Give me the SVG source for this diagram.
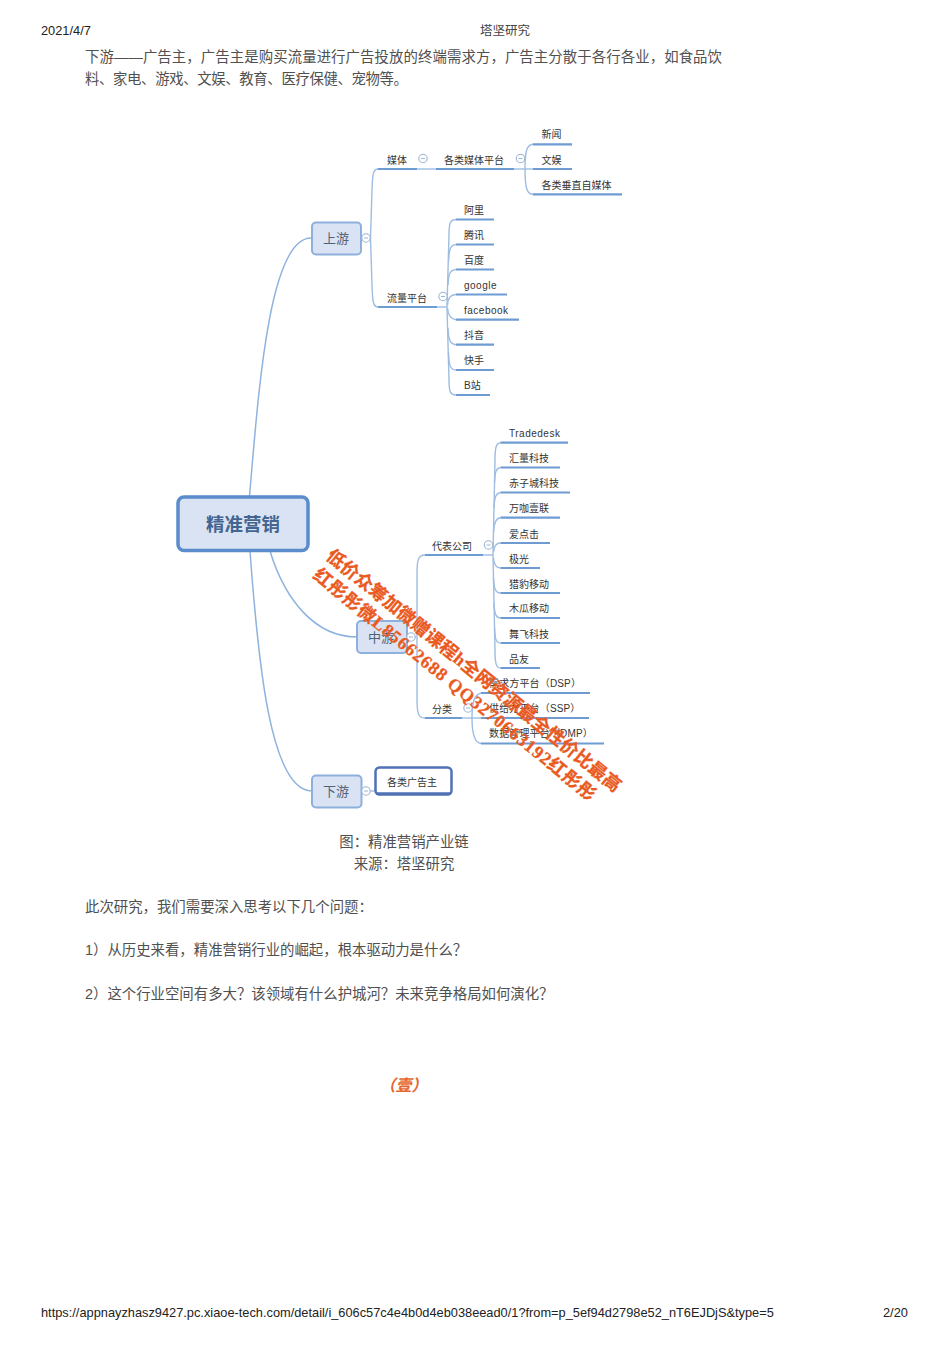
<svg xmlns="http://www.w3.org/2000/svg" width="950" height="1345" viewBox="0 0 950 1345">
<style>
text{font-family:"Liberation Sans","Noto Sans CJK SC",sans-serif}
.body{font-size:14.4px;fill:#505050}
.c{text-anchor:middle}
.hd{font-size:12.8px;fill:#222}
.lb{font-size:10px;fill:#333}
.la{letter-spacing:.5px}
.ul{stroke:#6f9bd3;stroke-width:2.2;fill:none}
.lk{stroke:#9dbde3;stroke-width:1.4;fill:none}
.tr{stroke:#8fb3de;stroke-width:1.5;fill:none}
.ci{fill:#fff;stroke:#9db4d2;stroke-width:1.1}
.ci2{stroke:#9db4d2;stroke-width:1}
.box{fill:#dae3f3;stroke:#8db0dc;stroke-width:2}
.bt{font-size:13px;fill:#50617a;text-anchor:middle}
.wm{font-family:"Liberation Serif","Noto Sans CJK SC",serif;font-size:18px;font-weight:700;fill:#ea5a1e;stroke:#ea5a1e;stroke-width:.3}
</style>
<defs>
<g id="tog"><circle r="4.2" class="ci"/><line x1="-2" x2="2" class="ci2"/></g>
</defs>
<rect width="950" height="1345" fill="#fff"/>
<g id="page-text">
<text x="41" y="35" class="hd">2021/4/7</text>
<text x="505" y="35" class="c" style="font-size:12.5px;fill:#444;font-family:'Liberation Serif','Noto Sans CJK SC',serif">塔坚研究</text>
<text x="85" y="62" class="body" textLength="637">下游——广告主，广告主是购买流量进行广告投放的终端需求方，广告主分散于各行各业，如食品饮</text>
<text x="85" y="84" class="body" textLength="323">料、家电、游戏、文娱、教育、医疗保健、宠物等。</text>
<text x="404" y="847" class="body c">图：精准营销产业链</text>
<text x="404" y="869" class="body c">来源：塔坚研究</text>
<text x="85" y="912" class="body">此次研究，我们需要深入思考以下几个问题：</text>
<text x="85" y="955" class="body">1）从历史来看，精准营销行业的崛起，根本驱动力是什么？</text>
<text x="85" y="999" class="body">2）这个行业空间有多大？该领域有什么护城河？未来竞争格局如何演化？</text>
<text x="403.500" y="1091" class="c" style="font-size:16px;font-weight:700;font-style:italic;fill:#e4662c">（壹）</text>
<text x="41" y="1317" class="hd">https://appnayzhasz9427.pc.xiaoe-tech.com/detail/i_606c57c4e4b0d4eb038eead0/1?from=p_5ef94d2798e52_nT6EJDjS&amp;type=5</text>
<text x="883" y="1317" class="hd">2/20</text>
</g>
<g id="connectors">
<path class="tr" d="M249.500 496C258 400 268 238 311 238"/>
<path class="tr" d="M270 551C285 600 315 637 357 637"/>
<path class="tr" d="M250 551C258 660 270 791 312 791"/>
<path class="lk" d="M361 238H370"/>
<path class="lk" d="M378 169C373 169 372.500 175 372 190L370.500 238L372 285C372.500 301 373 307 378 307"/>
<path class="lk" d="M417 169H436"/>
<path class="lk" d="M514 169H525"/>
<path class="lk" d="M533 144.300C527 145 525 150 525 169C525 188 527 194 533 194.300"/>
<path class="lk" d="M525 169H533"/>
<path class="lk" d="M437 307H447"/>
<path class="lk" d="M456 219.500C450 219.500 449 224 449 235L447 307L449 380C449 391 450 395 456 395"/>
<path class="lk" d="M456 244.500C450 245 449 250 448.500 262"/>
<path class="lk" d="M456 269.500C450 270 448.500 274 448 285"/>
<path class="lk" d="M456 294.500C450 295 448 298 447.500 305"/>
<path class="lk" d="M456 319.700C450 319 448 315 447.500 308"/>
<path class="lk" d="M456 344.700C450 344 448.500 340 448 328"/>
<path class="lk" d="M456 370C450 370 449 365 448.500 352"/>
<path class="lk" d="M407 637H416"/>
<path class="lk" d="M425 555C418 555 417 560 417 575V698C417 713 418 718 425 718"/>
<path class="lk" d="M483 555H493"/>
<path class="lk" d="M500.500 442.700C496 443 495 448 495 460L493 555L495 650C495 663 496 668 500.500 668"/>
<path class="lk" d="M500.500 467.500C496 468 495 472 494.500 483"/>
<path class="lk" d="M500.500 492.500C496 493 494.500 497 494 508"/>
<path class="lk" d="M500.500 517.700C496 518 494 522 493.500 532"/>
<path class="lk" d="M500.500 543C496 543 494 546 493.500 552"/>
<path class="lk" d="M500.500 568C496 568 494 565 493.500 558"/>
<path class="lk" d="M500.500 593C496 593 494 590 493.500 578"/>
<path class="lk" d="M500.500 618C496 618 494.500 614 494 603"/>
<path class="lk" d="M500.500 643C496 643 495 639 494.500 628"/>
<path class="lk" d="M462 718H482"/>
<path class="lk" d="M482 693C475 694 472 700 472 718C472 736 475 743 481 743.500"/>
<path class="lk" d="M361 791H376"/>
</g>
<g id="n-root"><rect x="178" y="497" width="130" height="53.500" rx="6" fill="#dae3f3" stroke="#5b8ccb" stroke-width="3.500"/><text x="243" y="531" class="c" style="font-size:18.500px;font-weight:700;fill:#44658f">精准营销</text></g>
<g id="n-up"><rect x="312" y="222.500" width="49" height="32" rx="4" class="box"/><text x="336" y="243" class="bt">上游</text><use href="#tog" x="366" y="238"/></g>
<g id="n-mid"><rect x="357" y="621" width="50" height="32" rx="4" class="box"/><text x="381" y="642" class="bt">中游</text><use href="#tog" x="411" y="637"/></g>
<g id="n-down"><rect x="312" y="775.500" width="49.500" height="32" rx="4" class="box"/><text x="336" y="796" class="bt">下游</text><use href="#tog" x="366" y="791"/></g>
<g id="n-ads"><rect x="375.500" y="767.500" width="76" height="27" rx="4" fill="#fff" stroke="#4f72b5" stroke-width="2.500"/><path d="M376 793.500H451" stroke="#4f72b5" stroke-width="2.500"/><text x="412" y="785.500" class="lb c">各类广告主</text></g>
<g id="n-media"><path class="ul" d="M378 169H417"/><text x="387" y="163.500" class="lb">媒体</text><use href="#tog" x="423" y="158.500"/></g>
<g id="n-mediaplat"><path class="ul" d="M436 169H514"/><text x="444" y="163.500" class="lb">各类媒体平台</text><use href="#tog" x="520.500" y="158.500"/></g>
<g id="n-news"><path class="ul" d="M533 144.300H572"/><text x="541.500" y="138" class="lb">新闻</text></g>
<g id="n-ent"><path class="ul" d="M533 169H572"/><text x="541.500" y="163.500" class="lb">文娱</text></g>
<g id="n-self"><path class="ul" d="M533 194.300H622"/><text x="541.500" y="188.500" class="lb">各类垂直自媒体</text></g>
<g id="n-traffic"><path class="ul" d="M378 307H437"/><text x="387" y="301.500" class="lb">流量平台</text><use href="#tog" x="443" y="296.500"/></g>
<g id="n-ali"><path class="ul" d="M456 219.500H494"/><text x="464" y="213.500" class="lb">阿里</text></g>
<g id="n-tencent"><path class="ul" d="M456 244.500H494"/><text x="464" y="239" class="lb">腾讯</text></g>
<g id="n-baidu"><path class="ul" d="M456 269.500H494"/><text x="464" y="264" class="lb">百度</text></g>
<g id="n-google"><path class="ul" d="M456 294.500H507"/><text x="464" y="289" class="lb la">google</text></g>
<g id="n-facebook"><path class="ul" d="M456 319.700H519"/><text x="464" y="313.500" class="lb la">facebook</text></g>
<g id="n-douyin"><path class="ul" d="M456 344.700H494"/><text x="464" y="339" class="lb">抖音</text></g>
<g id="n-kuaishou"><path class="ul" d="M456 370H494"/><text x="464" y="364" class="lb">快手</text></g>
<g id="n-bili"><path class="ul" d="M456 395H490"/><text x="464" y="389" class="lb">B站</text></g>
<g id="n-rep"><path class="ul" d="M425 555H483"/><text x="432" y="549.500" class="lb">代表公司</text><use href="#tog" x="488.500" y="545"/></g>
<g id="n-td"><path class="ul" d="M500.500 442.700H568"/><text x="509" y="437" class="lb la">Tradedesk</text></g>
<g id="n-hl"><path class="ul" d="M500.500 467.500H560"/><text x="509" y="462" class="lb">汇量科技</text></g>
<g id="n-czc"><path class="ul" d="M500.500 492.500H570"/><text x="509" y="487" class="lb">赤子城科技</text></g>
<g id="n-wk"><path class="ul" d="M500.500 517.700H560"/><text x="509" y="512" class="lb">万咖壹联</text></g>
<g id="n-adc"><path class="ul" d="M500.500 543H550"/><text x="509" y="537.500" class="lb">爱点击</text></g>
<g id="n-jg"><path class="ul" d="M500.500 568H540"/><text x="509" y="562.500" class="lb">极光</text></g>
<g id="n-lb"><path class="ul" d="M500.500 593H560"/><text x="509" y="587.500" class="lb">猎豹移动</text></g>
<g id="n-mg"><path class="ul" d="M500.500 618H560"/><text x="509" y="612" class="lb">木瓜移动</text></g>
<g id="n-wf"><path class="ul" d="M500.500 643H560"/><text x="509" y="637.500" class="lb">舞飞科技</text></g>
<g id="n-py"><path class="ul" d="M500.500 668H540"/><text x="509" y="663" class="lb">品友</text></g>
<g id="n-cat"><path class="ul" d="M425 718H462"/><text x="432" y="712.500" class="lb">分类</text><use href="#tog" x="468" y="708"/></g>
<g id="n-dsp"><path class="ul" d="M481 693H590"/><text x="489" y="687" class="lb" style="letter-spacing:.15px">需求方平台（DSP）</text></g>
<g id="n-ssp"><path class="ul" d="M481 718H589"/><text x="489" y="712" class="lb" style="letter-spacing:.15px">供给方平台（SSP）</text></g>
<g id="n-dmp"><path class="ul" d="M481 743.500H604"/><text x="489" y="737" class="lb" style="letter-spacing:.15px">数据管理平台（DMP）</text></g>
<g id="watermark">
<text class="wm" transform="translate(325 558) rotate(39)" textLength="373">低价众筹加微赠课程h全网资源最全性价比最高</text>
<text class="wm" transform="translate(312 577) rotate(39)" textLength="357">红彤彤微L85662688 QQ3270663192红彤彤</text>
</g>
</svg>
